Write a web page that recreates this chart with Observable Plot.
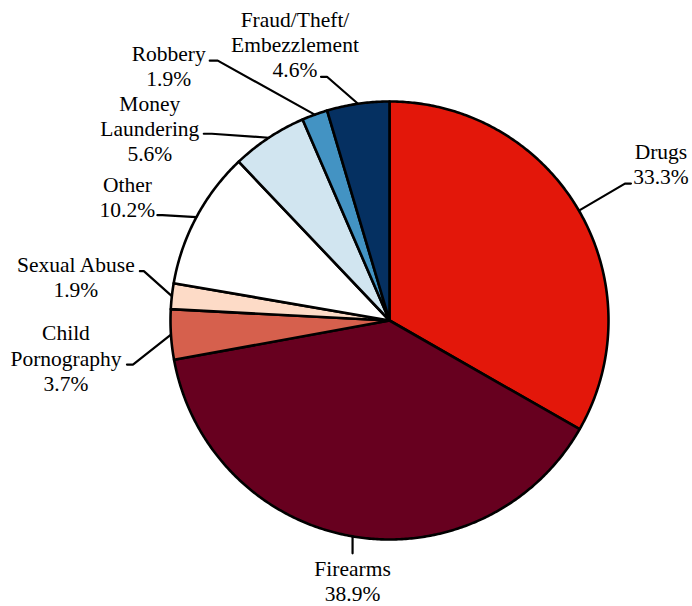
<!DOCTYPE html>
<html>
<head>
<meta charset="utf-8">
<script src="https://cdn.jsdelivr.net/npm/d3@7"></script>
<script src="https://cdn.jsdelivr.net/npm/@observablehq/plot@0.6"></script>
<style>
  html, body { margin: 0; padding: 0; background: #fff; }
  #chart svg { display: block; }
</style>
</head>
<body>
<div id="chart"></div>
<script>
// ---- data ----
const categories = ["Drugs", "Firearms", "Child Pornography", "Sexual Abuse", "Other", "Money Laundering", "Robbery", "Fraud/Theft/Embezzlement"];
const labelTexts = ["Drugs", "Firearms", "Child\nPornography", "Sexual Abuse", "Other", "Money\nLaundering", "Robbery", "Fraud/Theft/\nEmbezzlement"];
const percents = [33.3, 38.9, 3.7, 1.9, 10.2, 5.6, 1.9, 4.6];
const colors = ["#e3170a", "#67001f", "#d6604d", "#fddbc7", "#ffffff", "#d1e5f0", "#4393c3", "#053061"];

// ---- layout (pixels) ----
const W = 692, H = 606, CX = 389, CY = 320, R = 219;
// leader: elbow offset from slice perimeter point, end offset from elbow, label centre offset from end
const leaderLayout = [
  {elbow: [46, -27], end: [6, 0], text: [30, -20]},
  {elbow: [0, 17], end: [0, 0], text: [0, 27]},
  {elbow: [-38, 30], end: [-6, 0], text: [-61, -7]},
  {elbow: [-28, -25], end: [-4, 0], text: [-64, 5]},
  {elbow: [-34, -2], end: [-5, 0], text: [-30, -19]},
  {elbow: [-57, -4], end: [-8, 0], text: [-54, -6]},
  {elbow: [-97, -54], end: [-8, 0], text: [-41, 5]},
  {elbow: [-31, -27], end: [-6, 0], text: [-26, -33]}
];

// pie angles (clockwise from top), units = radius 1
const total = d3.sum(percents);
let cum = 0;
const slices = categories.map((c, i) => {
  const a0 = cum / total * 2 * Math.PI;
  cum += percents[i];
  const a1 = cum / total * 2 * Math.PI;
  return {key: c, a0, a1, mid: (a0 + a1) / 2, i};
});

const slicePts = [];
for (const s of slices) {
  slicePts.push({key: s.key, x: 0, y: 0});
  const n = Math.max(2, Math.ceil((s.a1 - s.a0) / (Math.PI / 360)));
  for (let k = 0; k <= n; k++) {
    const a = s.a0 + (s.a1 - s.a0) * k / n;
    slicePts.push({key: s.key, x: Math.sin(a), y: -Math.cos(a)});
  }
  slicePts.push({key: s.key, x: 0, y: 0});
}

const leaderPts = [];
const labels = [];
slices.forEach((s, i) => {
  const L = leaderLayout[i];
  const px = Math.sin(s.mid), py = -Math.cos(s.mid);
  const ex = px + L.elbow[0] / R, ey = py + L.elbow[1] / R;
  const nx = ex + L.end[0] / R, ny = ey + L.end[1] / R;
  leaderPts.push({key: s.key, x: px, y: py}, {key: s.key, x: ex, y: ey}, {key: s.key, x: nx, y: ny});
  labels.push({x: nx + L.text[0] / R, y: ny + L.text[1] / R, text: labelTexts[i] + "\n" + percents[i].toFixed(1) + "%"});
});

const chart = Plot.plot({
  width: W,
  height: H,
  margin: 0,
  x: {domain: [-CX / R, (W - CX) / R], range: [0, W], axis: null},
  y: {domain: [-CY / R, (H - CY) / R], range: [0, H], axis: null},
  color: {domain: categories, range: colors},
  style: {background: "#fff", fontFamily: "Liberation Serif"},
  marks: [
    Plot.line(slicePts, {x: "x", y: "y", z: "key", fill: "key", stroke: "#000", strokeWidth: 2.6, strokeLinejoin: "round", curve: "linear"}),
    Plot.line(leaderPts, {x: "x", y: "y", z: "key", stroke: "#000", strokeWidth: 2.2, strokeLinejoin: "miter", curve: "linear"}),
    Plot.text(labels, {x: "x", y: "y", text: "text", fontSize: 21.5, fontFamily: "Liberation Serif", lineHeight: 1.18, textAnchor: "middle", fill: "#000"})
  ]
});
document.getElementById("chart").appendChild(chart);
</script>
</body>
</html>
